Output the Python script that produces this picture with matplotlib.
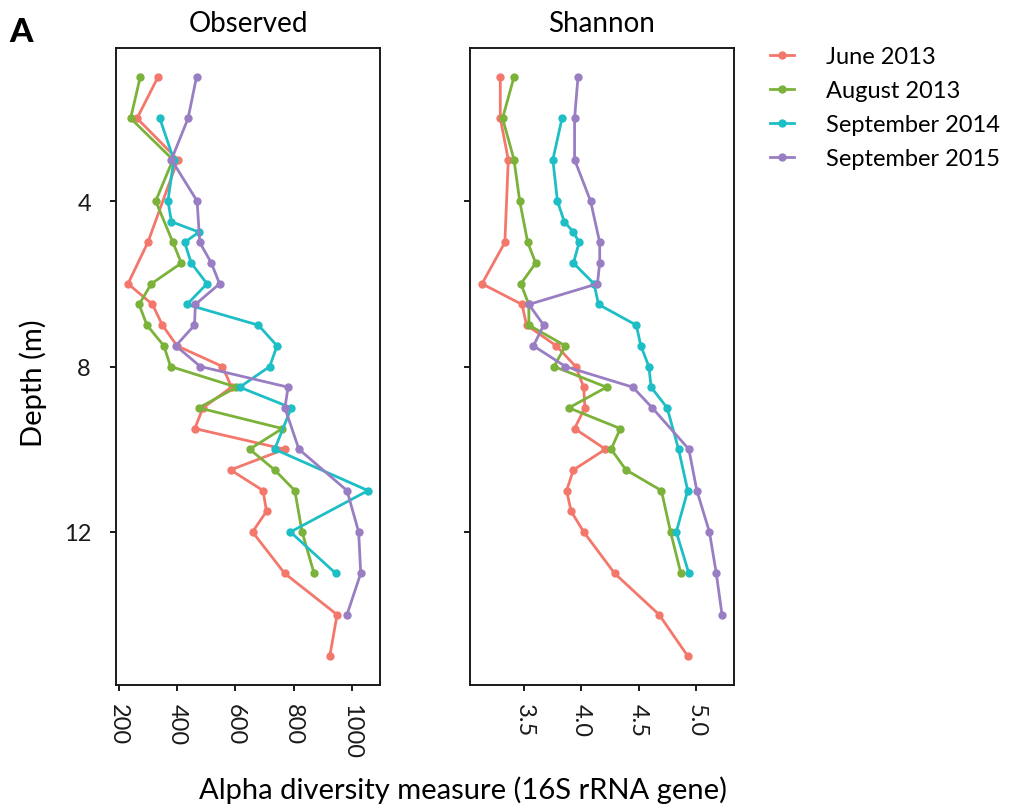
import matplotlib
matplotlib.use("Agg")
import matplotlib.pyplot as plt
from matplotlib.lines import Line2D

plt.rcParams['font.family'] = ['Lato', 'DejaVu Sans']

# sampling depths (m) for each cruise
depth_jun13 = [1, 2, 3, 5, 6, 6.5, 7, 7.5, 8, 8.5, 9, 9.5, 10, 10.5, 11, 11.5, 12, 13, 14, 15]
depth_aug13 = [1, 2, 3, 4, 5, 5.5, 6, 6.5, 7, 7.5, 8, 8.5, 9, 9.5, 10, 10.5, 11, 12, 13]
depth_sep14 = [2, 3, 4, 4.5, 4.75, 5, 5.5, 6, 6.5, 7, 7.5, 8, 8.5, 9, 10, 11, 12, 13]
depth_sep15 = [1, 2, 3, 4, 5, 5.5, 6, 6.5, 7, 7.5, 8, 8.5, 9, 10, 11, 12, 13, 14]

# observed richness
obs_jun13 = [335, 263, 403, 300, 232, 316, 350, 400, 556, 587, 489, 461, 769, 584, 695, 707, 659, 769, 949, 924]
obs_aug13 = [274, 241, 386, 327, 386, 415, 312, 270, 297, 355, 378, 604, 475, 761, 649, 735, 804, 829, 870]
obs_sep14 = [341, 389, 369, 381, 475, 426, 449, 503, 434, 679, 743, 718, 615, 792, 735, 1055, 789, 944]
obs_sep15 = [467, 438, 381, 469, 478, 518, 546, 463, 460, 396, 480, 781, 770, 818, 983, 1023, 1030, 983]

# Shannon index
sha_jun13 = [3.29, 3.29, 3.36, 3.33, 3.13, 3.48, 3.52, 3.78, 3.95, 4.02, 4.03, 3.94, 4.21, 3.93, 3.87, 3.91, 4.02, 4.29, 4.68, 4.93]
sha_aug13 = [3.41, 3.31, 3.41, 3.46, 3.53, 3.60, 3.47, 3.54, 3.54, 3.86, 3.76, 4.22, 3.89, 4.34, 4.26, 4.39, 4.70, 4.78, 4.87]
sha_sep14 = [3.83, 3.75, 3.79, 3.85, 3.93, 3.98, 3.93, 4.11, 4.15, 4.48, 4.52, 4.59, 4.61, 4.75, 4.85, 4.93, 4.83, 4.94]
sha_sep15 = [3.97, 3.94, 3.94, 4.08, 4.16, 4.16, 4.14, 3.54, 3.67, 3.58, 3.86, 4.45, 4.62, 4.94, 5.01, 5.12, 5.18, 5.23]

labels = ["June 2013", "August 2013", "September 2014", "September 2015"]
colors = ["#F4776C", "#7BB23A", "#1DBEC5", "#9A7EC3"]

depths = [depth_jun13, depth_aug13, depth_sep14, depth_sep15]
observed = [obs_jun13, obs_aug13, obs_sep14, obs_sep15]
shannon = [sha_jun13, sha_aug13, sha_sep14, sha_sep15]

fig = plt.figure(figsize=(10.11, 8.12), dpi=100)
ax1 = fig.add_axes([116/1011, 1-686/812, 264/1011, 637/812])
ax2 = fig.add_axes([470/1011, 1-686/812, 264/1011, 637/812], sharey=ax1)

for ax, vals in ((ax1, observed), (ax2, shannon)):
    for d, v, c in zip(depths, vals, colors):
        ax.plot(v, d, color=c, lw=2.0, marker="o", ms=5, mec=c)
    ax.margins(0.05)
    for s in ax.spines.values():
        s.set_linewidth(1.4)
        s.set_color("#1a1a1a")
    ax.tick_params(axis="both", direction="out", length=4, width=1.4,
                   labelsize=17, color="#1a1a1a", labelcolor="#1a1a1a")
    ax.tick_params(axis="x", labelrotation=-90, pad=9)
    ax.tick_params(axis="y", pad=14)

ax1.set_xticks([200, 400, 600, 800, 1000])
ax2.set_xticks([3.5, 4.0, 4.5, 5.0])
ax1.set_yticks([4, 8, 12])
ax1.invert_yaxis()
ax2.tick_params(axis="y", labelleft=False)

ax1.set_title("Observed", fontsize=20, pad=12)
ax2.set_title("Shannon", fontsize=20, pad=12)
ax1.set_ylabel("Depth (m)", fontsize=21)
ax1.yaxis.set_label_coords(-69/264, (686-383)/637)

fig.text(463/1011, 1-790/812, "Alpha diversity measure (16S rRNA gene)",
         fontsize=21, ha="center", va="center")
fig.text(9/1011, 1-32/812, "A", fontsize=24, fontweight="black", ha="left", va="center")

handles = [Line2D([], [], color=c, lw=2.0, marker="o", ms=5) for c in colors]
fig.legend(handles, labels, loc="upper left", bbox_to_anchor=(749/1011, 1-26/812),
           frameon=False, fontsize=17, handlelength=1.0, handletextpad=1.35,
           labelspacing=0.55)

fig.savefig("out.png", dpi=100)
